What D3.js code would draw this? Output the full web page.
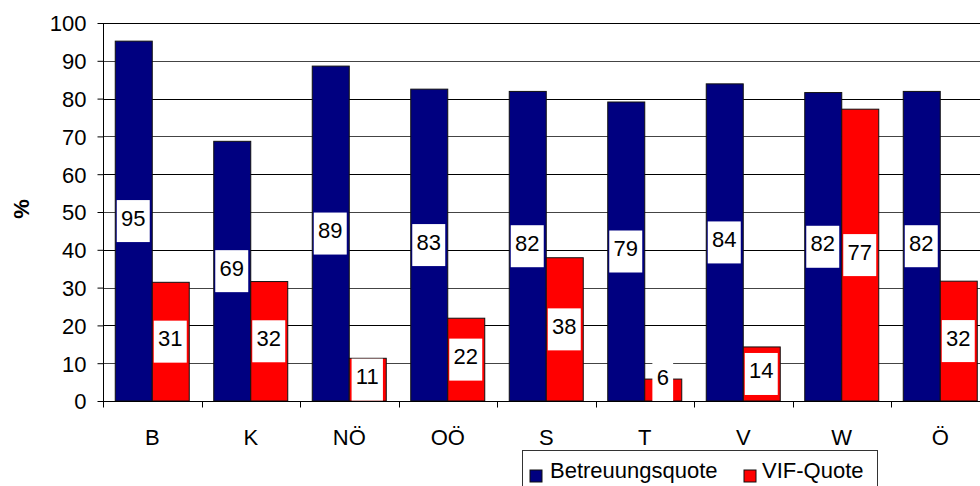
<!DOCTYPE html>
<html>
<head>
<meta charset="utf-8">
<script src="https://cdn.jsdelivr.net/npm/d3@7"></script>
<style>
  html, body { margin: 0; padding: 0; background: #fff; }
  svg { display: block; font-family: "Liberation Sans", Arial, sans-serif; }
</style>
</head>
<body>
<svg id="chart" width="980" height="486"></svg>
<script>
const categories = ["B", "K", "NÖ", "OÖ", "S", "T", "V", "W", "Ö"];
const seriesNames = ["Betreuungsquote", "VIF-Quote"];
const betreuungsquote = [95.2, 68.7, 88.6, 82.5, 81.9, 79.1, 83.9, 81.6, 81.9];
const vifQuote = [31.4, 31.6, 11.3, 21.9, 37.9, 5.8, 14.3, 77.2, 31.7];
const yTicks = [0, 10, 20, 30, 40, 50, 60, 70, 80, 90, 100];
const colors = ["#000080", "#FF0000"];

(function () {
const svg = d3.select("#chart");
const W = 980;
const pLeft = 103, pTop = 23, pBottom = 401, pRight = 989.5;

const x0 = d3.scaleBand().domain(categories).range([pLeft, pRight]).paddingInner(0).paddingOuter(0);
const x1 = d3.scaleBand().domain(seriesNames).range([12.25, 12.25 + 74]).padding(0);
const y = d3.scaleLinear().domain([0, 100]).range([pBottom, pTop]);

const data = categories.map((c, i) => ({
  cat: c,
  vals: [
    { s: seriesNames[0], v: betreuungsquote[i], c: colors[0] },
    { s: seriesNames[1], v: vifQuote[i], c: colors[1] }
  ]
}));

// gridlines
svg.append("g").selectAll("line").data(yTicks.filter(t => t > 0)).join("line")
  .attr("x1", pLeft).attr("x2", W)
  .attr("y1", d => Math.round(y(d)) + 0.5).attr("y2", d => Math.round(y(d)) + 0.5)
  .attr("stroke", d => d % 20 === 0 ? "#000" : "#444").attr("stroke-width", 1)
  .attr("shape-rendering", "crispEdges");

// bars
const groups = svg.append("g").selectAll("g").data(data).join("g")
  .attr("transform", d => `translate(${x0(d.cat)},0)`);
groups.selectAll("rect").data(d => d.vals).join("rect")
  .attr("x", d => x1(d.s))
  .attr("y", d => y(d.v))
  .attr("width", x1.bandwidth())
  .attr("height", d => y(0) - y(d.v))
  .attr("fill", d => d.c)
  .attr("stroke", "#111").attr("stroke-width", 1);

// labels with white boxes
const fmt = v => String(Math.round(v));
const boxH = 42;
groups.each(function(d) {
  const g = d3.select(this);
  d.vals.forEach(v => {
    const cx = x1(v.s) + x1.bandwidth() / 2 - 0.5;
    let cy = (y(v.v) + y(0)) / 2;
    if (cy + boxH / 2 > y(0)) cy = y(0) - boxH / 2;
    const t = g.append("text")
      .attr("x", cx).attr("y", cy + 4.5)
      .attr("text-anchor", "middle")
      .attr("font-size", 22).attr("fill", "#000")
      .text(fmt(v.v));
    const w = t.node().getComputedTextLength() + 8.5;
    g.insert("rect", () => t.node())
      .attr("x", cx - w / 2).attr("y", cy - boxH / 2)
      .attr("width", w).attr("height", boxH)
      .attr("fill", "#fff");
  });
});

// y axis
const yAxis = d3.axisLeft(y).tickValues(yTicks).tickSize(6).tickPadding(11).tickFormat(d3.format("d"));
const ya = svg.append("g").attr("transform", `translate(${pLeft + 0.5},0)`).call(yAxis);
ya.select(".domain").attr("stroke", "#000").attr("d", `M0,${pTop}V${pBottom + 6}`);
ya.selectAll(".tick line").attr("stroke", "#000");
ya.selectAll(".tick text").attr("font-size", 22).attr("font-family", "Liberation Sans, Arial, sans-serif").attr("fill", "#000").attr("dy", "0.36em");

// top border line
svg.append("line").attr("x1", pLeft).attr("x2", W).attr("y1", pTop + 0.5).attr("y2", pTop + 0.5)
  .attr("stroke", "#000").attr("shape-rendering", "crispEdges");

// x axis
const xa = svg.append("g").attr("transform", `translate(0,${Math.round(pBottom) + 0.5})`);
xa.append("line").attr("x1", pLeft).attr("x2", W).attr("stroke", "#000");
xa.selectAll("line.tk").data(d3.range(categories.length + 1)).join("line").attr("class", "tk")
  .attr("x1", i => Math.round(pLeft + i * x0.step()) + 0.5).attr("x2", i => Math.round(pLeft + i * x0.step()) + 0.5)
  .attr("y1", 0).attr("y2", 6).attr("stroke", "#000");
xa.selectAll("text").data(categories).join("text")
  .attr("x", d => x0(d) + x0.bandwidth() / 2)
  .attr("y", 43)
  .attr("text-anchor", "middle").attr("font-size", 22).attr("fill", "#000")
  .text(d => d);

// y title
svg.append("text").attr("transform", "translate(29,209) rotate(-90)")
  .attr("text-anchor", "middle").attr("font-size", 22).attr("font-weight", "bold").text("%");

// legend
const lg = svg.append("g");
lg.append("rect").attr("x", 522.5).attr("y", 450.5).attr("width", 355).attr("height", 45)
  .attr("fill", "#fff").attr("stroke", "#333");
const items = [{ n: seriesNames[0], c: colors[0], x: 530, tx: 550 }, { n: seriesNames[1], c: colors[1], x: 744, tx: 762 }];
items.forEach(it => {
  lg.append("rect").attr("x", it.x).attr("y", 470).attr("width", 12).attr("height", 12)
    .attr("fill", it.c).attr("stroke", "#111");
  lg.append("text").attr("x", it.tx).attr("y", 478).attr("font-size", 22).attr("fill", "#000").text(it.n);
});
})();
</script>
</body>
</html>
